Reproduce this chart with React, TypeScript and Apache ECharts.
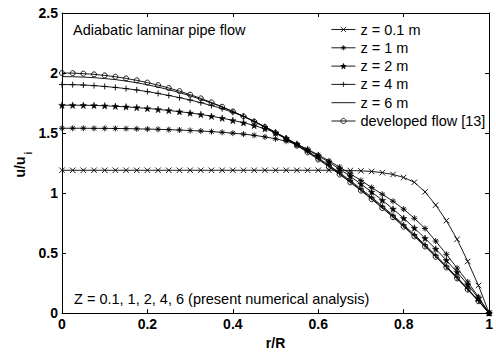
import React, { useEffect, useRef } from "react";
import * as echarts from "echarts";

// r/R positions (shared by all profiles)
const rValues = [
  0, 0.025, 0.05, 0.075, 0.1, 0.125, 0.15, 0.175, 0.2, 0.225, 0.25, 0.275, 0.3, 0.325, 0.35, 0.375, 0.4,
  0.425, 0.45, 0.475, 0.5, 0.525, 0.55, 0.575, 0.6, 0.625, 0.65, 0.675, 0.7, 0.725, 0.75, 0.775, 0.8,
  0.825, 0.85, 0.875, 0.9, 0.925, 0.95, 0.975, 1,
];

const z01 = [
  1.19, 1.19, 1.19, 1.19, 1.19, 1.19, 1.19, 1.19, 1.19, 1.19, 1.19, 1.19, 1.19, 1.19, 1.19, 1.19, 1.19,
  1.19, 1.19, 1.19, 1.19, 1.19, 1.19, 1.19, 1.19, 1.19, 1.19, 1.188, 1.185, 1.18, 1.17, 1.155, 1.13,
  1.09, 1.01, 0.9, 0.77, 0.615, 0.43, 0.23, 0,
];

const z1 = [
  1.54, 1.54, 1.54, 1.539, 1.539, 1.538, 1.537, 1.535, 1.533, 1.531, 1.528, 1.525, 1.521, 1.517, 1.512,
  1.506, 1.499, 1.491, 1.481, 1.468, 1.452, 1.432, 1.406, 1.365, 1.318, 1.268, 1.216, 1.161, 1.105,
  1.046, 0.99, 0.932, 0.866, 0.79, 0.705, 0.6, 0.49, 0.375, 0.26, 0.135, 0,
];

const z2 = [
  1.732, 1.732, 1.731, 1.73, 1.727, 1.723, 1.718, 1.712, 1.705, 1.697, 1.688, 1.678, 1.667, 1.655, 1.64,
  1.624, 1.605, 1.586, 1.563, 1.535, 1.503, 1.457, 1.408, 1.361, 1.31, 1.257, 1.2, 1.139, 1.075, 1.009,
  0.94, 0.867, 0.79, 0.709, 0.623, 0.534, 0.44, 0.341, 0.237, 0.124, 0,
];

const z4 = [
  1.904, 1.903, 1.9, 1.895, 1.888, 1.88, 1.87, 1.859, 1.845, 1.83, 1.813, 1.795, 1.775, 1.753, 1.729,
  1.703, 1.673, 1.639, 1.598, 1.554, 1.506, 1.457, 1.405, 1.35, 1.292, 1.232, 1.169, 1.104, 1.035, 0.965,
  0.891, 0.815, 0.735, 0.654, 0.569, 0.482, 0.392, 0.299, 0.203, 0.104, 0,
];

const z6 = [
  1.97, 1.969, 1.966, 1.961, 1.954, 1.945, 1.933, 1.919, 1.902, 1.883, 1.861, 1.837, 1.81, 1.781, 1.75,
  1.716, 1.679, 1.639, 1.597, 1.552, 1.504, 1.454, 1.4, 1.344, 1.286, 1.225, 1.161, 1.095, 1.026, 0.955,
  0.881, 0.805, 0.726, 0.645, 0.561, 0.474, 0.385, 0.293, 0.198, 0.101, 0,
];

const developed = [
  2, 1.999, 1.995, 1.989, 1.98, 1.969, 1.955, 1.939, 1.92, 1.899, 1.875, 1.849, 1.82, 1.789, 1.755, 1.719,
  1.68, 1.639, 1.595, 1.549, 1.5, 1.449, 1.395, 1.339, 1.28, 1.219, 1.155, 1.089, 1.02, 0.949, 0.875,
  0.799, 0.72, 0.639, 0.555, 0.469, 0.38, 0.289, 0.195, 0.099, 0,
];

const seriesNames = ["z = 0.1 m", "z = 1 m", "z = 2 m", "z = 4 m", "z = 6 m", "developed flow [13]"];

const FONT = "'Liberation Sans', Arial, Helvetica, sans-serif";

const SYM_X = "path://M0,0L10,10M10,0L0,10";
const SYM_PLUS = "path://M5,0L5,10M0,5L10,5";
const SYM_AST = "path://M5,0L5,10M0,5L10,5M1.5,1.5L8.5,8.5M8.5,1.5L1.5,8.5";
const SYM_STAR =
  "path://M5,0L6.123,3.455L9.755,3.455L6.816,5.59L7.939,9.045L5,6.91L2.061,9.045L3.184,5.59L0.245,3.455L3.877,3.455Z";

export default function App() {
  const ref = useRef<HTMLDivElement>(null);

  useEffect(() => {
    if (!ref.current) return;
    const chart = echarts.init(ref.current, undefined, { renderer: "svg" });

    const mk = (vals: number[]) => rValues.map((r, i) => [r, vals[i]]);

    const base = (name: string, vals: number[], symbol: string, size: number, filled: boolean, bw: number) => ({
      name,
      type: "line",
      data: mk(vals),
      symbol,
      symbolSize: size,
      showAllSymbol: true,
      smooth: false,
      lineStyle: { color: "#000", width: 0.9 },
      itemStyle: {
        color: filled ? "#000" : "rgba(0,0,0,0)",
        borderColor: "#000",
        borderWidth: bw,
      },
      emphasis: { disabled: true },
      silent: true,
      z: 2,
    });

    const axisCommonX = {
      type: "value",
      min: 0,
      max: 1,
      interval: 0.2,
      splitLine: { show: false },
      axisLine: { show: true, onZero: false, lineStyle: { color: "#000", width: 1 } },
      axisTick: { show: true, inside: true, length: 4, lineStyle: { color: "#000" } },
    };
    const axisCommonY = {
      type: "value",
      min: 0,
      max: 2.5,
      interval: 0.5,
      splitLine: { show: false },
      axisLine: { show: true, onZero: false, lineStyle: { color: "#000", width: 1 } },
      axisTick: { show: true, inside: true, length: 4, lineStyle: { color: "#000" } },
    };

    chart.setOption({
      animation: false,
      backgroundColor: "#fff",
      grid: { left: 62, right: 2, top: 13, bottom: 38, containLabel: false },
      xAxis: [
        {
          ...axisCommonX,
          position: "bottom",
          name: "r/R",
          nameLocation: "middle",
          nameGap: 21,
          nameTextStyle: { fontFamily: FONT, fontSize: 14, fontWeight: "bold", color: "#000" },
          axisLabel: { show: true, margin: 4, fontFamily: FONT, fontSize: 14, fontWeight: "bold", color: "#000" },
        },
        {
          ...axisCommonX,
          position: "top",
          axisLabel: { show: false },
        },
      ],
      yAxis: [
        {
          ...axisCommonY,
          position: "left",
          axisLabel: { show: true, margin: 4, fontFamily: FONT, fontSize: 14, fontWeight: "bold", color: "#000" },
        },
        {
          ...axisCommonY,
          position: "right",
          axisLabel: { show: false },
        },
      ],
      legend: {
        orient: "vertical",
        left: 331,
        top: 22,
        itemWidth: 24,
        itemHeight: 6.5,
        itemGap: 3.3,
        padding: 0,
        itemStyle: { borderWidth: 0.8 },
        lineStyle: { width: 0.9 },
        data: [
          seriesNames[0],
          seriesNames[1],
          seriesNames[2],
          seriesNames[3],
          { name: seriesNames[4], itemStyle: { opacity: 0 } },
          seriesNames[5],
        ],
        textStyle: { fontFamily: FONT, fontSize: 14.5, color: "#000", lineHeight: 15 },
        selectedMode: false,
      },
      graphic: [
        {
          type: "text",
          left: 73,
          top: 22,
          style: { text: "Adiabatic laminar pipe flow", font: `14.5px ${FONT}`, fill: "#000" },
        },
        {
          type: "text",
          left: 74,
          top: 291,
          style: {
            text: "Z = 0.1, 1, 2, 4, 6 (present numerical analysis)",
            font: `14.5px ${FONT}`,
            fill: "#000",
          },
        },
        {
          type: "text",
          x: 20,
          y: 167,
          rotation: Math.PI / 2,
          style: {
            text: "u/u",
            font: `bold 14px ${FONT}`,
            fill: "#000",
            align: "center",
            verticalAlign: "middle",
          },
        },
        {
          type: "text",
          x: 28,
          y: 153,
          rotation: Math.PI / 2,
          style: {
            text: "i",
            font: `bold 10px ${FONT}`,
            fill: "#000",
            align: "center",
            verticalAlign: "middle",
          },
        },
      ],
      series: [
        base(seriesNames[0], z01, SYM_X, 5.5, true, 0.9),
        base(seriesNames[1], z1, SYM_AST, 6, true, 0.9),
        base(seriesNames[2], z2, SYM_STAR, 6.5, true, 0.5),
        base(seriesNames[3], z4, SYM_PLUS, 6, true, 0.9),
        base(seriesNames[4], z6, "none", 6, true, 0.9),
        base(seriesNames[5], developed, "circle", 5, false, 0.9),
      ],
    });

    return () => chart.dispose();
  }, []);

  return (
    <div
      ref={ref}
      style={{ position: "fixed", left: 0, top: 0, width: 496, height: 355, background: "#fff" }}
    />
  );
}
